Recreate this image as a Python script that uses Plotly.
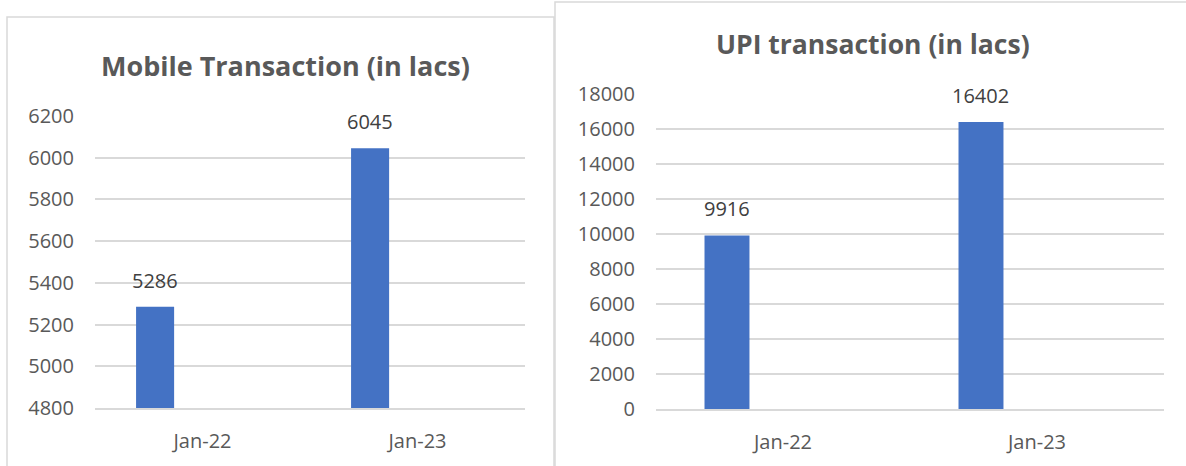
import plotly.graph_objects as go

# ---- data ----
categories = ["Jan-22", "Jan-23"]
mobile_values = [5286, 6045]
upi_values = [9916, 16402]
mobile_title = "Mobile Transaction (in lacs)"
upi_title = "UPI transaction (in lacs)"
mobile_yticks = [4800, 5000, 5200, 5400, 5600, 5800, 6000, 6200]
upi_yticks = [0, 2000, 4000, 6000, 8000, 10000, 12000, 14000, 16000, 18000]

W, H = 1186, 466
BAR = "#4472c4"
GRID = "#d9d9d9"
TXT = "#595959"
LBL = "#404040"
FONT = "Open Sans"

def px_x(p):
    return p / W

def px_y(p):
    return 1 - p / H

# plot areas in pixels
L = dict(x0=95, x1=525, y0=408, y1=116)
R = dict(x0=656, x1=1164, y0=409, y1=94)

BAR_W = 0.177
BAR_OFF = -0.309

fig = go.Figure()
fig.add_trace(go.Bar(x=categories, y=mobile_values, xaxis="x", yaxis="y",
                     marker=dict(color=BAR, line=dict(width=0)),
                     width=BAR_W, offset=BAR_OFF, hoverinfo="skip"))
fig.add_trace(go.Bar(x=categories, y=upi_values, xaxis="x2", yaxis="y2",
                     marker=dict(color=BAR, line=dict(width=0)),
                     width=BAR_W, offset=BAR_OFF, hoverinfo="skip"))

tickfont = dict(family=FONT, size=20, color=TXT)

def xaxis(area, anchor):
    return dict(domain=[px_x(area["x0"]), px_x(area["x1"])], anchor=anchor,
                type="category", showgrid=False, zeroline=False,
                showline=True, linecolor=GRID, linewidth=1.5,
                ticks="", tickfont=tickfont, ticklabelstandoff=14,
                automargin=False, fixedrange=True)

def yaxis(area, anchor, rng, ticks):
    return dict(domain=[px_y(area["y0"]), px_y(area["y1"])], anchor=anchor,
                range=rng, tickvals=ticks, ticktext=[str(t) for t in ticks],
                showgrid=True, gridcolor=GRID, gridwidth=1.5,
                zeroline=False, showline=False, ticks="",
                tickfont=tickfont, ticklabelstandoff=20,
                automargin=False, fixedrange=True)

fig.update_layout(
    width=W, height=H, autosize=False,
    margin=dict(l=0, r=0, t=0, b=0, pad=0, autoexpand=False),
    paper_bgcolor="white", plot_bgcolor="white", showlegend=False,
    xaxis=xaxis(L, "y"), yaxis=yaxis(L, "x", [mobile_yticks[0], mobile_yticks[-1]], mobile_yticks),
    xaxis2=xaxis(R, "y2"), yaxis2=yaxis(R, "x2", [upi_yticks[0], upi_yticks[-1]], upi_yticks),
)

# chart borders
fig.add_shape(type="rect", xref="paper", yref="paper",
              x0=px_x(7), x1=px_x(554), y0=px_y(480), y1=px_y(17),
              line=dict(color=GRID, width=1.5), fillcolor="rgba(0,0,0,0)", layer="below")
fig.add_shape(type="rect", xref="paper", yref="paper",
              x0=px_x(555), x1=px_x(1195), y0=px_y(480), y1=px_y(2),
              line=dict(color=GRID, width=1.5), fillcolor="rgba(0,0,0,0)", layer="below")

# titles
fig.add_annotation(text=mobile_title, xref="paper", yref="paper",
                   x=px_x(285), y=px_y(65), xanchor="center", yanchor="middle",
                   showarrow=False, font=dict(family=FONT, size=27, color=TXT, weight="bold"))
fig.add_annotation(text=upi_title, xref="paper", yref="paper",
                   x=px_x(873), y=px_y(44.5), xanchor="center", yanchor="middle",
                   showarrow=False, font=dict(family=FONT, size=26.5, color=TXT, weight="bold"))

# data labels
center_off = BAR_OFF + BAR_W / 2
for cats, vals, xr, yr, area in [(categories, mobile_values, "x", "y", L),
                                 (categories, upi_values, "x2", "y2", R)]:
    cw = (area["x1"] - area["x0"]) / len(cats)
    for c, v in zip(cats, vals):
        fig.add_annotation(text=str(v), x=c, y=v, xref=xr, yref=yr,
                           xanchor="center", yanchor="bottom", showarrow=False,
                           xshift=center_off * cw, yshift=11,
                           font=dict(family=FONT, size=20, color=LBL))

fig.write_html("out.html", config={"responsive": False, "displayModeBar": False},
               post_script="document.body.style.margin='0px';document.body.style.overflow='hidden';")
